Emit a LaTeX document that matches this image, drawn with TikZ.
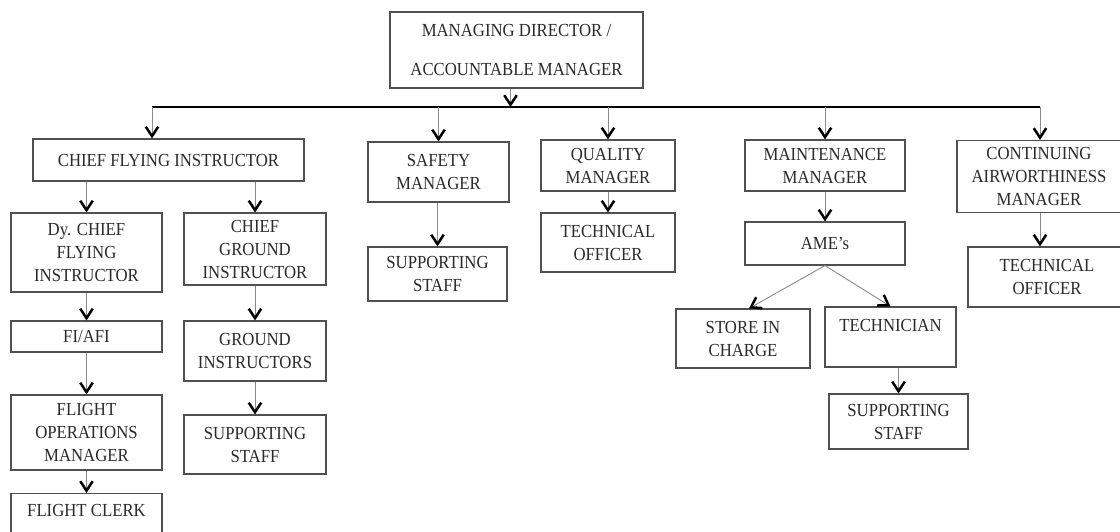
\documentclass[tikz,border=0pt]{standalone}
\usepackage{fontspec}
\setmainfont{Liberation Serif}[FakeStretch=0.91]
\usetikzlibrary{arrows.meta}
\definecolor{boxc}{HTML}{505050}
\definecolor{linec}{HTML}{8A8A8A}
\definecolor{txtc}{HTML}{2A2A2A}
\tikzset{
  orgbox/.style={draw=boxc, line width=1.1pt, inner sep=0pt, align=center, text=txtc,
    font=\fontsize{18.4}{23}\selectfont},
  conn/.style={draw=linec, line width=0.9pt,
    -{Straight Barb[length=9.5pt,width=12.5pt,line width=2.5pt,color=black]}},
  busline/.style={draw=black, line width=1.6pt},
}
\begin{document}
\begin{tikzpicture}[x=1pt,y=-1pt]
\useasboundingbox (0,0) rectangle (1120,532);
\clip (0,0) rectangle (1120,532);
\fill[white] (0,0) rectangle (1120,532);

% top
\node[orgbox, minimum width=253pt, minimum height=76pt] (md) at (516.5,50) {MANAGING DIRECTOR /\\[16pt]ACCOUNTABLE MANAGER};

% second row
\node[orgbox, minimum width=271pt, minimum height=42pt] (cfi) at (168.5,160) {CHIEF FLYING INSTRUCTOR};
\node[orgbox, minimum width=141pt, minimum height=60pt] (saf) at (438.5,172) {SAFETY\\MANAGER};
\node[orgbox, minimum width=134pt, minimum height=51pt] (qm) at (608,165.5) {QUALITY\\MANAGER};
\node[orgbox, minimum width=160pt, minimum height=51pt] (mm) at (825,165.5) {MAINTENANCE\\MANAGER};
\node[orgbox, minimum width=164pt, minimum height=72pt] (cam) at (1039,176.5) {CONTINUING\\AIRWORTHINESS\\MANAGER};

% third row
\node[orgbox, minimum width=151pt, minimum height=79pt] (dy) at (86.5,252.5) {Dy. CHIEF\\FLYING\\INSTRUCTOR};
\node[orgbox, minimum width=142pt, minimum height=72pt] (cgi) at (255,249) {CHIEF\\GROUND\\INSTRUCTOR};
\node[orgbox, minimum width=139pt, minimum height=54pt] (ss1) at (437.5,274) {SUPPORTING\\STAFF};
\node[orgbox, minimum width=134pt, minimum height=59pt] (to1) at (608,242.5) {TECHNICAL\\OFFICER};
\node[orgbox, minimum width=160pt, minimum height=43pt] (ame) at (825,243.5) {AME’s};
\node[orgbox, minimum width=158pt, minimum height=60pt] (to2) at (1047,277) {TECHNICAL\\OFFICER};

% lower rows
\node[orgbox, minimum width=151pt, minimum height=31pt] (fi) at (86.5,336.5) {FI/AFI};
\node[orgbox, minimum width=142pt, minimum height=60pt] (gi) at (255,351) {GROUND\\INSTRUCTORS};
\node[orgbox, minimum width=151pt, minimum height=75pt] (fom) at (86.5,432.5) {FLIGHT\\OPERATIONS\\MANAGER};
\node[orgbox, minimum width=151pt, minimum height=56pt] (fc) at (86.5,521.5) {FLIGHT CLERK\\\mbox{}};
\node[orgbox, minimum width=142pt, minimum height=59pt] (ss2) at (255,444.5) {SUPPORTING\\STAFF};
\node[orgbox, minimum width=134pt, minimum height=59pt] (sic) at (743,338.5) {STORE IN\\CHARGE};
\node[orgbox, minimum width=131pt, minimum height=60pt] (tech) at (890.5,337) {TECHNICIAN\\\mbox{}};
\node[orgbox, minimum width=139pt, minimum height=55pt] (ss3) at (898.5,421.5) {SUPPORTING\\STAFF};

% bus
\coordinate (busL) at (152,107);
\coordinate (busR) at (1040,107);
\draw[busline] (busL) -- (busR);
\draw[conn] ([xshift=-6pt]md.south) -- ([xshift=-6pt]md.south |- busL);

% bus to second row
\draw[conn] (busL) -- (busL |- cfi.north);
\draw[conn] (saf.north |- busL) -- (saf.north);
\draw[conn] (qm.north |- busL) -- (qm.north);
\draw[conn] (mm.north |- busL) -- (mm.north);
\draw[conn] (busR) -- (busR |- cam.north);

% flying branch
\draw[conn] (dy.north |- cfi.south) -- (dy.north);
\draw[conn] (cgi.north |- cfi.south) -- (cgi.north);
\draw[conn] (dy.south) -- (fi.north);
\draw[conn] (fi.south) -- (fom.north);
\draw[conn] (fom.south) -- (fc.north);
\draw[conn] (cgi.south) -- (gi.north);
\draw[conn] (gi.south) -- (ss2.north);

% other branches
\draw[conn] (ss1.north |- saf.south) -- (ss1.north);
\draw[conn] (qm.south) -- (to1.north);
\draw[conn] (mm.south) -- (ame.north);
\draw[conn] (ame.south) -- ([xshift=6pt]sic.north);
\draw[conn] (ame.south) -- (tech.north);
\draw[conn] (ss3.north |- tech.south) -- (ss3.north);
\draw[conn] (busR |- cam.south) -- (busR |- to2.north);
\end{tikzpicture}
\end{document}
